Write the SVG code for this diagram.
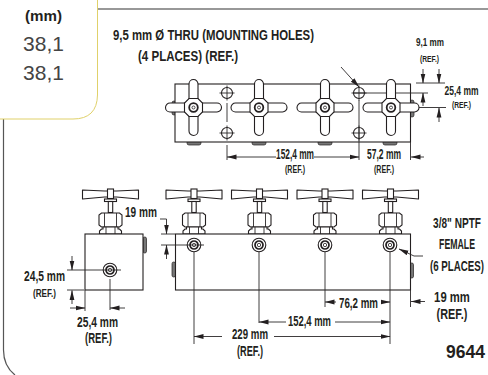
<svg xmlns="http://www.w3.org/2000/svg" width="488" height="375" viewBox="0 0 488 375">
<style>
text{font-family:"Liberation Sans",Arial,sans-serif;font-weight:700;fill:#231f20;text-anchor:middle}
.n{font-weight:400;fill:#444}
.o{fill:#fff;stroke:#231f20;stroke-width:1.100}
.d{fill:none;stroke:#2b2829;stroke-width:.9}
.b{fill:#777;stroke:#231f20;stroke-width:.7}
</style>
<defs>
<marker id="a" markerWidth="10" markerHeight="6" refX="9.500" refY="3" orient="auto" markerUnits="userSpaceOnUse"><path d="M0 .6L10 3L0 5.400z" fill="#231f20"/></marker>
<g id="cross">
<rect class="o" x="-28" y="-4.500" width="56" height="9" rx="4.500"/>
<rect class="o" x="-4.500" y="-28" width="9" height="56" rx="4.500"/>
<path class="o" d="M-4.500-9L4.500-9L9-4.500L9 4.500L4.500 9L-4.500 9L-9 4.500L-9-4.500z"/>
<circle cx="0" cy="0" r="4.300" fill="#fff" stroke="#231f20" stroke-width="1.800"/>
<circle cx="0" cy="0" r="1.500" fill="#fff" stroke="#231f20" stroke-width=".8"/>
</g>
<g id="hole"><circle class="o" r="5.500"/><path class="d" d="M-7.500 0H7.500M0-7.500V7.500"/></g>
<g id="valve">
<path class="o" d="M-28-44L-6-43H6L28-44L28-35L6-37H-6L-28-35z" stroke-linejoin="round"/>
<rect class="o" x="-3" y="-45" width="6" height="9.500"/>
<rect class="o" x="-6" y="-35" width="12" height="2.500"/>
<rect class="o" x="-2.200" y="-32.500" width="4.400" height="11"/>
<path class="o" d="M-9-21H9L11.500-19V-9L9-7H-9L-11.500-9V-19z"/>
<path class="d" d="M-6-21V-7M6-21V-7"/>
<path class="o" d="M-11 0V-3L-9-5H-7.500V-7H7.500V-5H9L11-3V0z"/>
<path class="d" d="M-4.500-7V0M4.500-7V0"/>
</g>
<g id="port"><circle class="o" r="6.800"/><circle cx="0" cy="0" r="4" fill="none" stroke="#231f20" stroke-width="1.700"/><circle cx="0" cy="0" r="1.700" fill="none" stroke="#231f20" stroke-width=".8"/></g>
</defs>
<rect width="488" height="375" fill="#fff"/>

<g id="frame">
<path d="M98 9H488" fill="none" stroke="#333" stroke-width="1.200"/>
<path d="M3.500 119V350Q3.500 366 15 375" fill="none" stroke="#555" stroke-width="1.200"/>
</g>
<g id="legend">
<path d="M97.500 0V95Q97 119 73 119H0" fill="#fff" stroke="#e0d16a" stroke-width="1"/>
<text x="43.500" y="21" font-size="14" textLength="37" lengthAdjust="spacingAndGlyphs">(mm)</text>
<text class="n" x="43.500" y="51" font-size="21">38,1</text>
<text class="n" x="43.500" y="80" font-size="21">38,1</text>
</g>

<g id="top-view">
<rect class="b" x="172" y="101" width="4" height="14" rx="2"/>
<rect class="b" x="410" y="100" width="4" height="17" rx="2"/>
<rect class="b" x="187" y="139" width="14" height="6" rx="2"/><rect class="b" x="252" y="139" width="14" height="6" rx="2"/><rect class="b" x="318" y="139" width="14" height="6" rx="2"/><rect class="b" x="383" y="139" width="14" height="6" rx="2"/>
<rect class="o" x="175" y="84" width="235.500" height="58"/>
<use href="#hole" x="227" y="93"/><use href="#hole" x="227" y="133"/><use href="#hole" x="359" y="93"/><use href="#hole" x="359" y="133"/>
<path class="d" d="M353 93H428M384 107.500H446"/>
<use href="#cross" x="193.500" y="107.500"/><use href="#cross" x="259" y="107.500"/><use href="#cross" x="325" y="107.500"/><use href="#cross" x="391" y="107.500"/>
</g>

<g id="front-view">
<rect class="b" x="143" y="237" width="3.500" height="16" rx="1.700"/>
<rect class="b" x="172" y="262" width="3.500" height="15" rx="1.700"/>
<rect class="b" x="410" y="263" width="3.500" height="15" rx="1.700"/>
<use href="#valve" x="110.500" y="234"/><use href="#valve" x="194" y="234"/><use href="#valve" x="259.500" y="234"/><use href="#valve" x="325" y="234"/><use href="#valve" x="390.500" y="234"/>
<rect class="o" x="85" y="234" width="58" height="56"/>
<rect class="o" x="175.500" y="234" width="235" height="56"/>
<use href="#port" x="110" y="270"/><use href="#port" x="194" y="245"/><use href="#port" x="259" y="245"/><use href="#port" x="325" y="245"/><use href="#port" x="390" y="245"/>
</g>

<g id="connectors">
<path class="d" d="M227 103V122M227 145V160M359 100V160M410.500 142V160"/>
<path class="d" d="M276 157H227" marker-end="url(#a)"/>
<path class="d" d="M314 157H359" marker-end="url(#a)"/>
<path class="d" d="M424 157H411" marker-end="url(#a)"/>
<path class="d" d="M341 67L359 87" marker-end="url(#a)"/>
<path class="d" d="M416 83H445"/>
<path class="d" d="M423 69V83" marker-end="url(#a)"/><path class="d" d="M439 69V83" marker-end="url(#a)"/>
<path class="d" d="M423 106V93" marker-end="url(#a)"/><path class="d" d="M439 122V108" marker-end="url(#a)"/>
<path class="d" d="M67 270H121M110 279V310M67 290H84M85 290V311"/>
<path class="d" d="M72 256V270" marker-end="url(#a)"/>
<path class="d" d="M72 304V290.500" marker-end="url(#a)"/>
<path class="d" d="M70 308H85" marker-end="url(#a)"/>
<path class="d" d="M125 308H110" marker-end="url(#a)"/>
<path class="d" d="M160 219H166.500V234" marker-end="url(#a)"/>
<path class="d" d="M161 234H175M161 245H204M194 252V344M259 252V323M325 252V307M390 252V344M410.500 290V307"/>
<path class="d" d="M166.500 259V245" marker-end="url(#a)"/>
<path class="d" d="M222 336.500H194" marker-end="url(#a)"/>
<path class="d" d="M274 336.500H390" marker-end="url(#a)"/>
<path class="d" d="M286 322H259" marker-end="url(#a)"/>
<path class="d" d="M335 322H390" marker-end="url(#a)"/>
<path class="d" d="M336 302H325" marker-end="url(#a)"/>
<path class="d" d="M381 302H390" marker-end="url(#a)"/>
<path class="d" d="M425 301.500H411" marker-end="url(#a)"/>
<path class="d" d="M423 256H414L399 249" marker-end="url(#a)"/>
</g>

<g id="labels">
<text x="213.500" y="40" font-size="15" textLength="201" lengthAdjust="spacingAndGlyphs">9,5 mm Ø THRU (MOUNTING HOLES)</text>
<text x="188" y="61" font-size="15" textLength="100" lengthAdjust="spacingAndGlyphs">(4 PLACES) (REF.)</text>
<text x="430" y="46" font-size="11.500" textLength="28" lengthAdjust="spacingAndGlyphs">9,1 mm</text>
<text x="429.500" y="62" font-size="9.500" textLength="19" lengthAdjust="spacingAndGlyphs">(REF.)</text>
<text transform="translate(461.500 95) scale(.654 1)" font-size="13">25,4 mm</text>
<text x="461.500" y="108" font-size="9.500" textLength="19" lengthAdjust="spacingAndGlyphs">(REF.)</text>
<text x="295" y="159" font-size="14" textLength="38" lengthAdjust="spacingAndGlyphs">152,4 mm</text>
<text x="295" y="173" font-size="10" textLength="20" lengthAdjust="spacingAndGlyphs">(REF.)</text>
<text x="384" y="159" font-size="14" textLength="34" lengthAdjust="spacingAndGlyphs">57,2 mm</text>
<text x="384" y="173" font-size="10" textLength="20" lengthAdjust="spacingAndGlyphs">(REF.)</text>
<text x="141" y="217" font-size="14" textLength="32" lengthAdjust="spacingAndGlyphs">19 mm</text>
<text x="44.500" y="281" font-size="15" textLength="41" lengthAdjust="spacingAndGlyphs">24,5 mm</text>
<text x="44.500" y="297" font-size="11" textLength="23" lengthAdjust="spacingAndGlyphs">(REF.)</text>
<text x="97.500" y="327" font-size="15" textLength="41" lengthAdjust="spacingAndGlyphs">25,4 mm</text>
<text x="98.500" y="343" font-size="14" textLength="27" lengthAdjust="spacingAndGlyphs">(REF.)</text>
<text x="358.500" y="308" font-size="15" textLength="39" lengthAdjust="spacingAndGlyphs">76,2 mm</text>
<text x="309.500" y="326" font-size="15" textLength="43" lengthAdjust="spacingAndGlyphs">152,4 mm</text>
<text x="250" y="339" font-size="14" textLength="36" lengthAdjust="spacingAndGlyphs">229 mm</text>
<text x="250" y="356" font-size="14" textLength="26" lengthAdjust="spacingAndGlyphs">(REF.)</text>
<text transform="translate(457 228) scale(.72 1)" font-size="14">3/8" NPTF</text>
<text transform="translate(457 249) scale(.625 1)" font-size="14">FEMALE</text>
<text transform="translate(457 271) scale(.694 1)" font-size="14">(6 PLACES)</text>
<text transform="translate(452 302) scale(.78 1)" font-size="14.500">19 mm</text>
<text transform="translate(452 319) scale(.75 1)" font-size="14.500">(REF.)</text>
<text x="465.500" y="358" font-size="17.500">9644</text>
</g>
</svg>
